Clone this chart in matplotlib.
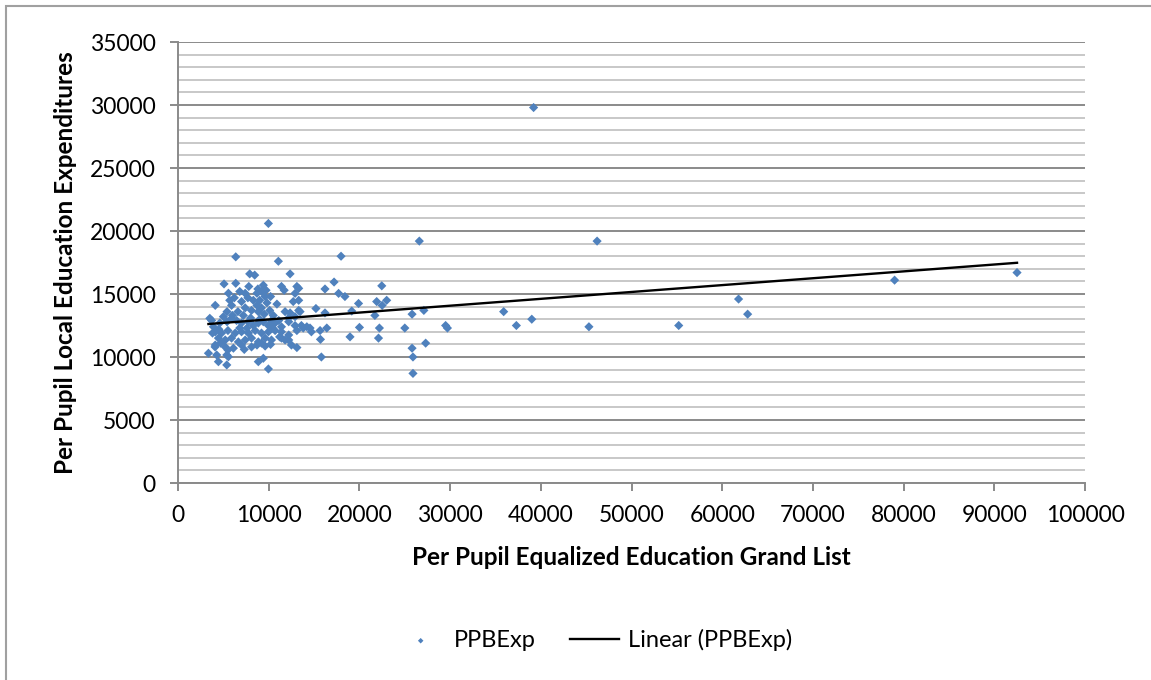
import numpy as np
import matplotlib
matplotlib.use("Agg")
import matplotlib.pyplot as plt
from matplotlib.patches import Rectangle
from matplotlib.ticker import MultipleLocator

# per pupil equalized education grand list (x) and local education expenditures (y)
grand_list = [
    39200, 9960, 26600, 46200, 6360, 17970, 11060, 92500, 79000, 61800,
    62800, 55200, 45300, 39000, 37300, 35900, 29500, 29700, 27100, 27300,
    25800, 25800, 25900, 25900, 25000, 22460, 21900, 22500, 23000, 21700,
    22200, 22100, 19900, 20000, 18960, 19150, 17700, 18400, 17200, 16200,
    16200, 16400, 15660, 15700, 15800, 15200, 14700, 13100, 13600, 13800,
    13450, 12350, 7900, 8450, 5070,
    6360, 7800, 9400, 11400, 11700, 13300, 12900, 13300, 12700,
    5550, 6800, 7400, 8700, 9200, 9600, 9000,
    4100, 5700, 5900, 5400, 7000, 7400, 6600, 7200,
    8300, 8700, 8100, 8850, 9200, 9800, 10100, 10900,
    11800, 12350, 12200, 12900, 13300, 3500, 3900,
    4600, 5400, 5900, 6450, 7000, 7750, 8300, 8850, 9400, 9960, 10700, 11400,
    12200, 12900, 14200,
    4100, 4800, 5500, 6300, 7000, 7750, 8500, 9200, 9960, 10700,
    11400, 12200, 13100, 14550,
    4450, 5200, 5900, 6650, 7400, 8100, 8850, 9600, 10300, 11400, 12200,
    4100, 5200, 5500, 7000, 8100, 8700, 9600, 11800, 12500,
    3350, 4260, 4450, 5550, 5370, 8850, 9400, 9960, 5370, 4080,
    6000, 6800, 7600, 8000, 9000, 9500, 10300, 10500, 5000, 4500,
    6200, 7700, 9700, 10200, 8800, 10400, 11100, 4700, 6100, 7300,
    9200, 10200, 3800, 3700, 13100, 11200,
]
expenditures = [
    29800, 20600, 19200, 19200, 17950, 18000, 17600, 16700, 16100, 14600,
    13400, 12500, 12400, 13000, 12500, 13600, 12500, 12300, 13700, 11100,
    13400, 10700, 10000, 8700, 12300, 15650, 14400, 14100, 14500, 13300,
    12300, 11500, 14250, 12350, 11600, 13650, 15050, 14800, 15950, 15400,
    13500, 12300, 12100, 11400, 10000, 13850, 12000, 10750, 12500, 12300,
    13600, 16600, 16600, 16500, 15800,
    15850, 15600, 15700, 15600, 15300, 15450, 15050, 14500, 14400,
    15060, 15200, 15060, 15060, 15200, 14800, 14500,
    14100, 14500, 14100, 13600, 14400, 13900, 13600, 13300,
    14500, 14100, 13700, 13600, 13900, 14300, 13700, 14200,
    13600, 13500, 13100, 13200, 13700, 13070, 12400,
    12700, 12800, 13070, 12900, 12700, 12800, 12500, 12700, 12800, 12500, 12700, 12400,
    12800, 12500, 12400,
    12000, 11900, 12100, 11900, 12000, 11900, 12100, 11900, 12000, 12100,
    12000, 11750, 12100, 12300,
    11500, 11350, 11500, 11200, 11350, 11500, 11200, 11500, 11350, 11500, 11350,
    10950, 10800, 10560, 10950, 10800, 10950, 10870, 11350, 10950,
    10300, 10160, 9630, 10020, 9370, 9630, 9900, 9050, 10160, 10800,
    13300, 12300, 12300, 13100, 13000, 13400, 12900, 13300, 13200, 12200,
    14700, 14700, 15300, 14800, 15400, 12300, 12900, 11100, 10700, 10600,
    11100, 11000, 11900, 12900, 15600, 11600,
]

# linear trendline coefficients (y = slope * x + intercept)
trend_slope = 0.0545
trend_intercept = 12437

x = np.array(grand_list, dtype=float)
y = np.array(expenditures, dtype=float)
trend_x = np.array([x.min(), x.max()])
trend_y = trend_slope * trend_x + trend_intercept

fig = plt.figure(figsize=(11.51, 6.8), dpi=100)
plt.rcParams["font.family"] = ["Lato", "DejaVu Sans"]
ax = fig.add_axes([0.1547, 0.2897, 0.788, 0.6485])

ax.scatter(x, y, marker="D", s=22, color="#4F81BD", edgecolors="none",
           label="PPBExp", zorder=3)
ax.plot(trend_x, trend_y, color="black", lw=1.7, label="Linear (PPBExp)", zorder=4)

ax.set_xlim(0, 100000)
ax.set_ylim(0, 35000)
ax.xaxis.set_major_locator(MultipleLocator(10000))
ax.yaxis.set_major_locator(MultipleLocator(5000))
ax.yaxis.set_minor_locator(MultipleLocator(1000))
ax.grid(which="minor", axis="y", color="#c8c8c8", lw=1.4)
ax.grid(which="major", axis="y", color="#8a8a8a", lw=1.4)
ax.set_axisbelow(True)

for side in ["top", "right"]:
    ax.spines[side].set_visible(False)
ax.spines["left"].set_color("#8a8a8a")
ax.spines["left"].set_linewidth(1.4)
ax.spines["bottom"].set_color("#8a8a8a")
ax.spines["bottom"].set_linewidth(1.4)

ax.tick_params(axis="both", which="major", direction="out", length=6,
               width=1.4, color="#8a8a8a", labelsize=16.5)
ax.tick_params(axis="y", which="major", pad=10)
ax.tick_params(axis="x", which="major", pad=10)
ax.tick_params(axis="y", which="minor", length=0)

ax.set_xlabel("Per Pupil Equalized Education Grand List", fontsize=17.5,
              fontweight="bold", labelpad=14)
ax.set_ylabel("Per Pupil Local Education Expenditures", fontsize=17.5,
              fontweight="bold", labelpad=9)

fig.legend(loc="center", bbox_to_anchor=(0.516, 0.059), ncol=2, frameon=False,
           fontsize=17, markerscale=0.6, handlelength=2.1, columnspacing=1.45,
           handletextpad=0.35)

# chart area border
fig.patches.append(Rectangle((0.0052, -0.1), 1.2, 1.0912, transform=fig.transFigure,
                             fill=False, edgecolor="#a0a0a0", lw=1.5))

fig.savefig("out.png", dpi=100)
